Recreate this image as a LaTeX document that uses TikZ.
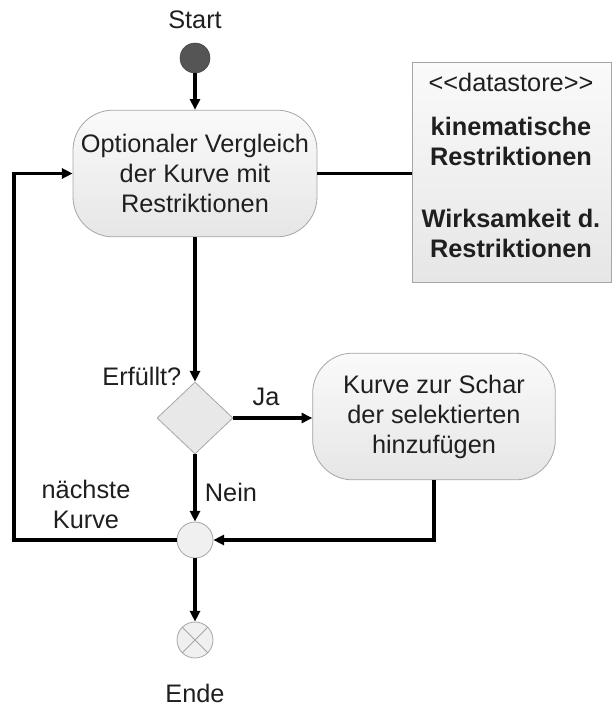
\documentclass[tikz,border=0pt]{standalone}
\usepackage{fontspec}
\setmainfont{Liberation Sans}
\usetikzlibrary{shapes.geometric,arrows.meta,calc}
\definecolor{boxline}{HTML}{A6A6A6}
\definecolor{boxtop}{HTML}{FAFAFA}
\definecolor{boxbot}{HTML}{E6E6E6}
\definecolor{startfill}{HTML}{555555}
\begin{document}
\begin{tikzpicture}[x=0.75pt,y=-0.75pt,
  txt/.style={font=\fontsize{19}{22.5}\selectfont, text=black!88, align=center},
  action/.style={draw=boxline, line width=0.6pt, rounded corners=30pt,
    top color=boxtop, bottom color=boxbot, minimum width=183pt, minimum height=95pt,
    txt, inner sep=0pt},
  store/.style={draw=boxline, line width=0.6pt, top color=boxtop, bottom color=boxbot,
    minimum width=149pt, minimum height=165pt, txt, inner sep=0pt},
  decision/.style={diamond, draw=boxline, line width=0.6pt, fill=boxbot!90!white,
    minimum width=57pt, minimum height=54pt, inner sep=0pt},
  merge/.style={circle, draw=boxline, line width=0.6pt, fill=boxtop!50!boxbot,
    minimum size=27pt, inner sep=0pt},
  flow/.style={line width=2.3pt, -{Triangle[length=8pt,width=7.5pt]}},
  link/.style={line width=2.3pt}
]
\useasboundingbox (0,0) rectangle (611,706);

% labels
\node[txt] (startlbl) at (195,20) {Start};
\node[txt] (endlbl) at (195,693) {Ende};

% nodes
\node[circle, fill=startfill, draw=startfill!80!black, line width=0.4pt, minimum size=22.5pt, inner sep=0pt] (start) at (195,58) {};
\node[action] (compare) at (195,173.5) {Optionaler Vergleich\\der Kurve mit\\Restriktionen};
\node[store, anchor=north west] (store) at (412,62) {};
\node[txt, anchor=north, font=\fontsize{19}{23}\selectfont] (storetxt) at (511,68) {{<}{<}datastore{>}{>}\\[10pt]
  \textbf{kinematische}\\\textbf{Restriktionen}\\[23pt]
  \textbf{Wirksamkeit d.}\\\textbf{Restriktionen}};
\node[decision] (check) at (195,418) {};
\node[action, minimum width=182pt] (add) at (434,416.5) {Kurve zur Schar\\der selektierten\\hinzuf\"ugen};
\node[merge] (join) at (195,540) {};
\node[merge] (final) at (195,640) {};
\draw[boxline, line width=0.6pt] (final.north west) -- (final.south east)
  (final.north east) -- (final.south west);

% edge labels
\node[txt, anchor=east] (erf) at (186,376) {Erf\"ullt?};
\node[txt] (ja) at (266,397) {Ja};
\node[txt] (nein) at (231,492) {Nein};
\node[txt] (next) at (86,504) {n\"achste\\Kurve};

% connectors
\coordinate (addcorner) at (add.south |- join.east);
\coordinate (loopbl) at (14,540);
\coordinate (looptl) at (14,173.5);
\draw[flow] (start) -- (compare);
\draw[link] (compare.east) -- (store.west |- compare.east);
\draw[flow] (compare) -- (check.north);
\draw[flow] (check.east) -- (add.west |- check.east);
\draw[flow] (check.south) -- (join.north);
\draw[flow] (add.south) -- (addcorner) -- (join.east);
\draw[flow] (join.west) -- (loopbl) -- (looptl) -- (compare.west);
\draw[flow] (join.south) -- (final.north);
\end{tikzpicture}
\end{document}
